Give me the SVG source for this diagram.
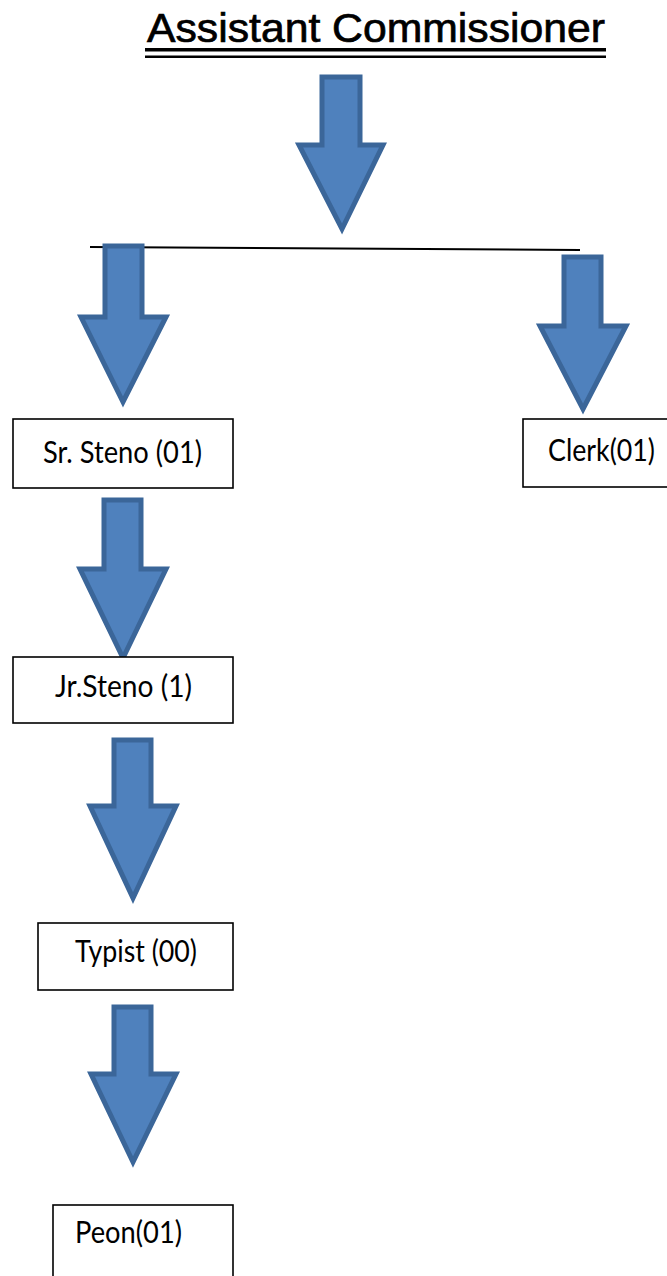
<svg xmlns="http://www.w3.org/2000/svg" width="667" height="1276" viewBox="0 0 667 1276">
<style>
.arrow{fill:#4F81BD;stroke:#3B6699;stroke-width:5;stroke-linejoin:miter;filter:url(#soft)}
.box{fill:#fff;stroke:#000;stroke-width:1.6}
.lbl{font-family:Lato,"Open Sans",sans-serif;font-size:30px;fill:#000}
.title{font-family:"Liberation Sans",Arial,sans-serif;font-size:41px;fill:#000;stroke:#000;stroke-width:0.7}
</style>
<defs>
<filter id="soft" x="-10%" y="-10%" width="120%" height="120%"><feGaussianBlur stdDeviation="0.7"/></filter>
</defs>
<rect width="667" height="1276" fill="#fff"/>
<g id="title">
<text class="title" x="147" y="42" textLength="458" lengthAdjust="spacingAndGlyphs">Assistant Commissioner</text>
<rect x="145" y="48" width="461" height="3.5" fill="#000"/>
<rect x="145" y="55.5" width="461" height="2.5" fill="#000"/>
</g>
<g id="connectors">
<polygon class="arrow" points="322,77 360,77 360,145 383,145 342,229 299,145 322,145"/>
<line x1="90" y1="247" x2="580" y2="250" stroke="#000" stroke-width="2"/>
<polygon class="arrow" points="105,246 142,246 142,317 166,317 123,402 81,317 105,317"/>
<polygon class="arrow" points="564,257 601,257 601,326 626,326 583,409 540,326 564,326"/>
<polygon class="arrow" points="104,500 141,500 141,569 166,569 123,658 80,569 104,569"/>
<polygon class="arrow" points="114,740 151,740 151,806 176,806 133,898 90,806 114,806"/>
<polygon class="arrow" points="114,1007 151,1007 151,1074 176,1074 133,1162 91,1074 114,1074"/>
</g>
<g id="sr-steno">
<rect class="box" x="13" y="419" width="220" height="69"/>
<text class="lbl" x="43" y="463" textLength="159" lengthAdjust="spacingAndGlyphs">Sr. Steno (01)</text>
</g>
<g id="clerk">
<rect class="box" x="523" y="419" width="160" height="68"/>
<text class="lbl" x="548" y="461" textLength="107" lengthAdjust="spacingAndGlyphs">Clerk(01)</text>
</g>
<g id="jr-steno">
<rect class="box" x="13" y="657" width="220" height="66"/>
<text class="lbl" x="55" y="697" textLength="137" lengthAdjust="spacingAndGlyphs">Jr.Steno (1)</text>
</g>
<g id="typist">
<rect class="box" x="38" y="923" width="195" height="67"/>
<text class="lbl" x="75" y="962" textLength="122" lengthAdjust="spacingAndGlyphs">Typist (00)</text>
</g>
<g id="peon">
<rect class="box" x="53" y="1205" width="180" height="80"/>
<text class="lbl" x="75" y="1243" textLength="107" lengthAdjust="spacingAndGlyphs">Peon(01)</text>
</g>
</svg>
